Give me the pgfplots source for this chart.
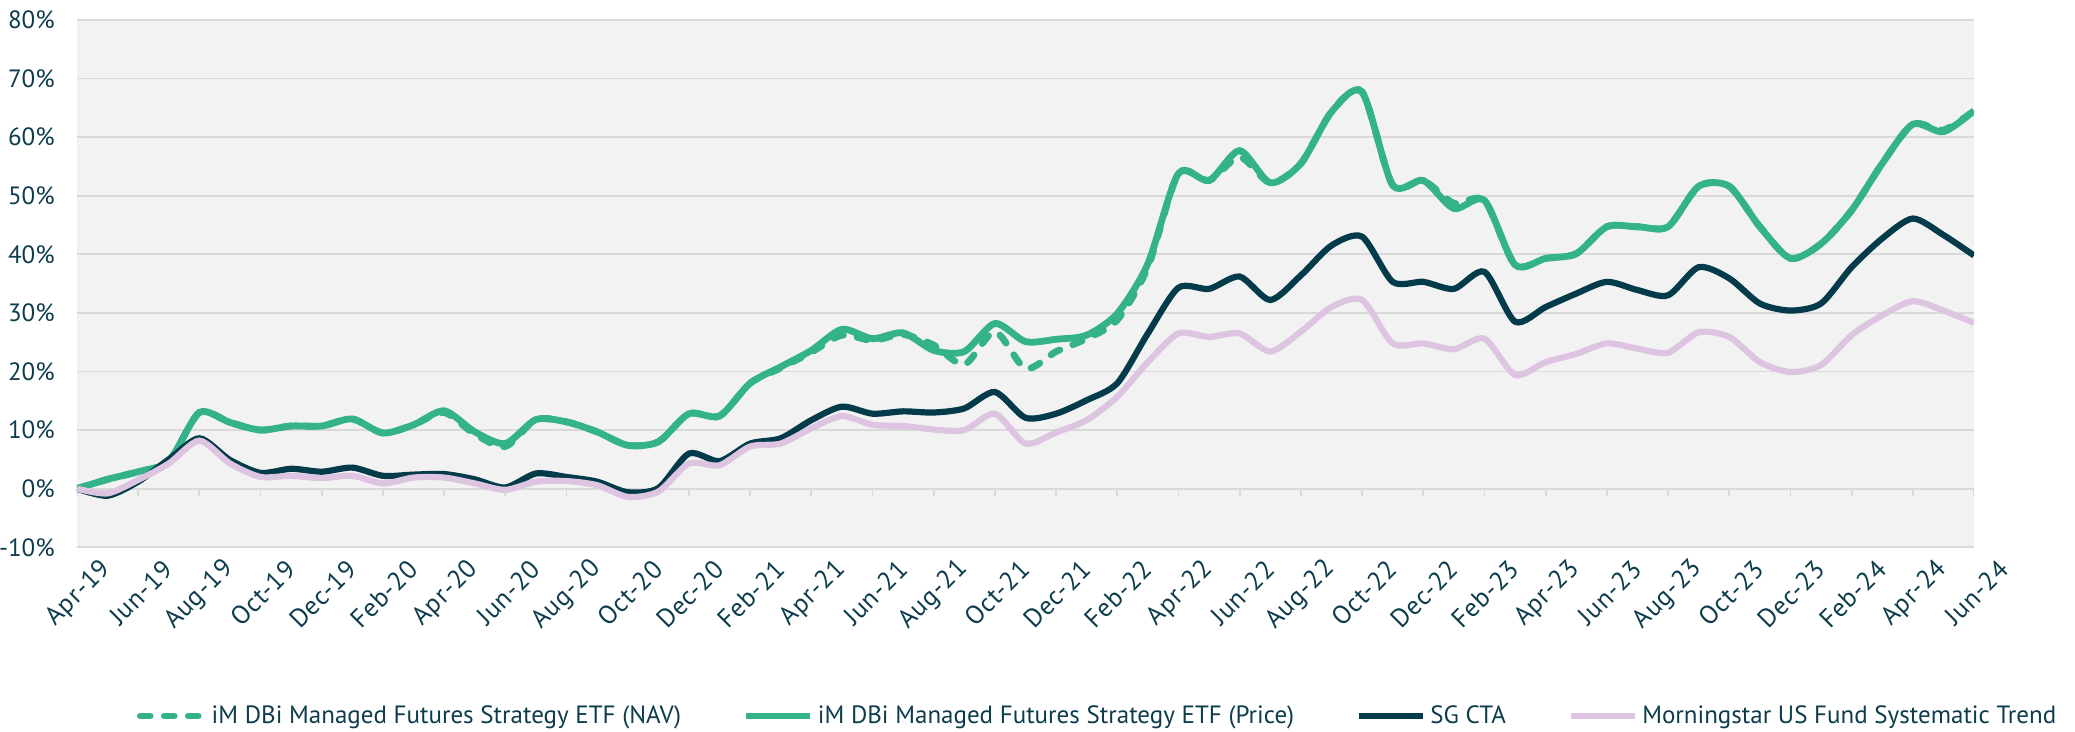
\documentclass[border=0pt]{standalone}
\usepackage{fontspec}
\setmainfont{PT Sans}
\newfontfamily\tickfont{PT Sans}
\newfontfamily\xtickfont{PT Sans}[LetterSpace=3]
\usepackage{pgfplots}
\usepackage{pgfplotstable}
\pgfplotsset{compat=1.18}
\definecolor{cgreen}{HTML}{34B28A}
\definecolor{cdark}{HTML}{033B4B}
\definecolor{clilac}{HTML}{DDC5E1}
\definecolor{ctext}{HTML}{0D3C4C}
\definecolor{cgrid}{HTML}{D9D9D9}
\definecolor{cbg}{HTML}{F2F2F2}

\pgfplotstableread{
m P N S M
0 0.0 0.0 0.0 0.0
1 1.6 1.6 -1.2 -0.8
2 2.9 2.9 1.2 1.5
3 4.7 4.7 5.0 4.3
4 13.0 13.0 8.6 8.2
5 11.3 11.3 4.9 4.3
6 10.0 10.0 2.7 2.0
7 10.7 10.7 3.4 2.2
8 10.7 10.7 2.9 1.8
9 11.9 11.9 3.6 2.2
10 9.5 9.5 2.2 0.9
11 10.9 10.9 2.4 1.9
12 13.3 13.0 2.5 1.9
13 9.7 9.3 1.6 0.9
14 7.7 7.2 0.2 -0.2
15 11.8 11.8 2.6 1.2
16 11.4 11.4 2.0 1.3
17 9.7 9.7 1.2 0.6
18 7.4 7.4 -0.6 -1.4
19 8.0 8.0 0.1 -0.5
20 12.8 12.8 6.0 4.3
21 12.4 12.4 4.7 4.0
22 18.0 18.0 7.7 7.2
23 20.8 20.6 8.6 7.7
24 23.6 23.3 11.7 10.3
25 27.2 26.2 14.0 12.4
26 25.6 25.3 12.8 10.9
27 26.6 26.3 13.2 10.7
28 23.6 24.5 13.0 10.1
29 23.4 21.2 13.7 10.0
30 28.2 26.8 16.5 12.8
31 25.1 20.5 12.1 7.7
32 25.5 23.4 12.8 9.6
33 26.2 25.6 15.1 11.7
34 29.9 28.8 18.0 15.7
35 38.4 37.8 26.5 21.6
36 53.8 53.8 34.3 26.5
37 52.6 52.6 34.1 25.9
38 57.7 56.6 36.2 26.5
39 52.2 52.2 32.2 23.4
40 55.5 55.5 36.4 26.8
41 64.3 64.3 41.5 31.0
42 67.7 67.7 43.0 32.2
43 51.8 51.8 35.3 24.8
44 52.6 52.6 35.3 24.8
45 47.8 48.7 34.1 23.8
46 49.2 49.2 37.0 25.6
47 38.2 38.2 28.5 19.4
48 39.3 39.3 31.0 21.6
49 40.1 40.1 33.3 23.0
50 44.7 44.7 35.3 24.8
51 44.7 44.7 33.9 23.9
52 44.7 44.7 33.0 23.2
53 51.6 51.6 37.8 26.7
54 51.6 51.6 35.9 25.9
55 44.7 44.7 31.6 21.6
56 39.3 39.3 30.4 19.9
57 41.8 41.8 31.6 21.1
58 47.5 47.5 37.8 26.2
59 55.5 55.5 42.7 29.6
60 62.2 62.2 46.1 32.0
61 60.9 61.2 43.3 30.4
62 64.5 64.5 39.8 28.3
}\datatable

\begin{document}
\begin{tikzpicture}
\path[use as bounding box] (0,0) rectangle (1037.5pt,366pt);
\begin{axis}[
  at={(38.5pt,92.35pt)}, anchor=south west,
  scale only axis, width=948.5pt, height=263.7pt,
  xmin=0, xmax=62, ymin=-10, ymax=80,
  axis background/.style={fill=cbg},
  axis line style={draw=none},
  major tick length=0pt,
  ytick={-10,0,...,80},
  yticklabel={\pgfmathprintnumber{\tick}\%},
  /pgf/number format/assume math mode=true,
  yticklabel style={font=\tickfont\fontsize{12.5}{12.5}\selectfont, text=ctext, anchor=east, inner sep=0pt, xshift=-11pt},
  ymajorgrids, grid style={line width=0.9pt, cgrid},
  xtick={0,2,...,62},
  xticklabels={Apr-19,Jun-19,Aug-19,Oct-19,Dec-19,Feb-20,Apr-20,Jun-20,Aug-20,Oct-20,Dec-20,Feb-21,Apr-21,Jun-21,Aug-21,Oct-21,Dec-21,Feb-22,Apr-22,Jun-22,Aug-22,Oct-22,Dec-22,Feb-23,Apr-23,Jun-23,Aug-23,Oct-23,Dec-23,Feb-24,Apr-24,Jun-24},
  xticklabel style={font=\xtickfont\fontsize{13}{13}\selectfont, text=ctext, rotate=45, anchor=east, inner sep=0pt, xshift=4.5pt, yshift=-17pt},
  legend columns=4,
  legend style={at={(0.5385,-0.32)}, anchor=center, draw=none, fill=none,
    font=\fontsize{12.5}{12.5}\selectfont, text=ctext,
    /tikz/every even column/.append style={column sep=29pt}},
  legend cell align=left,
  legend image code/.code={\draw[#1] (0pt,0pt) -- (32pt,0pt);},
]
\pgfplotsinvokeforeach{0,2,...,62}{\draw[cgrid, line width=0.9pt] (axis cs:#1,0) -- ([yshift=-3.5pt]axis cs:#1,0);}
\addplot[cgreen, line width=3.4pt, dash pattern=on 5pt off 7pt, line cap=round, smooth, tension=0.45] table[x=m,y=N]{\datatable};
\addlegendentry{iM DBi Managed Futures Strategy ETF (NAV)}
\addplot[cgreen, line width=3.4pt, smooth, tension=0.45] table[x=m,y=P]{\datatable};
\addlegendentry{iM DBi Managed Futures Strategy ETF (Price)}
\addplot[cdark, line width=3.1pt, smooth, tension=0.45] table[x=m,y=S]{\datatable};
\addlegendentry{SG CTA}
\addplot[clilac, line width=3.1pt, smooth, tension=0.45] table[x=m,y=M]{\datatable};
\addlegendentry{Morningstar US Fund Systematic Trend}
\end{axis}
\end{tikzpicture}
\end{document}
